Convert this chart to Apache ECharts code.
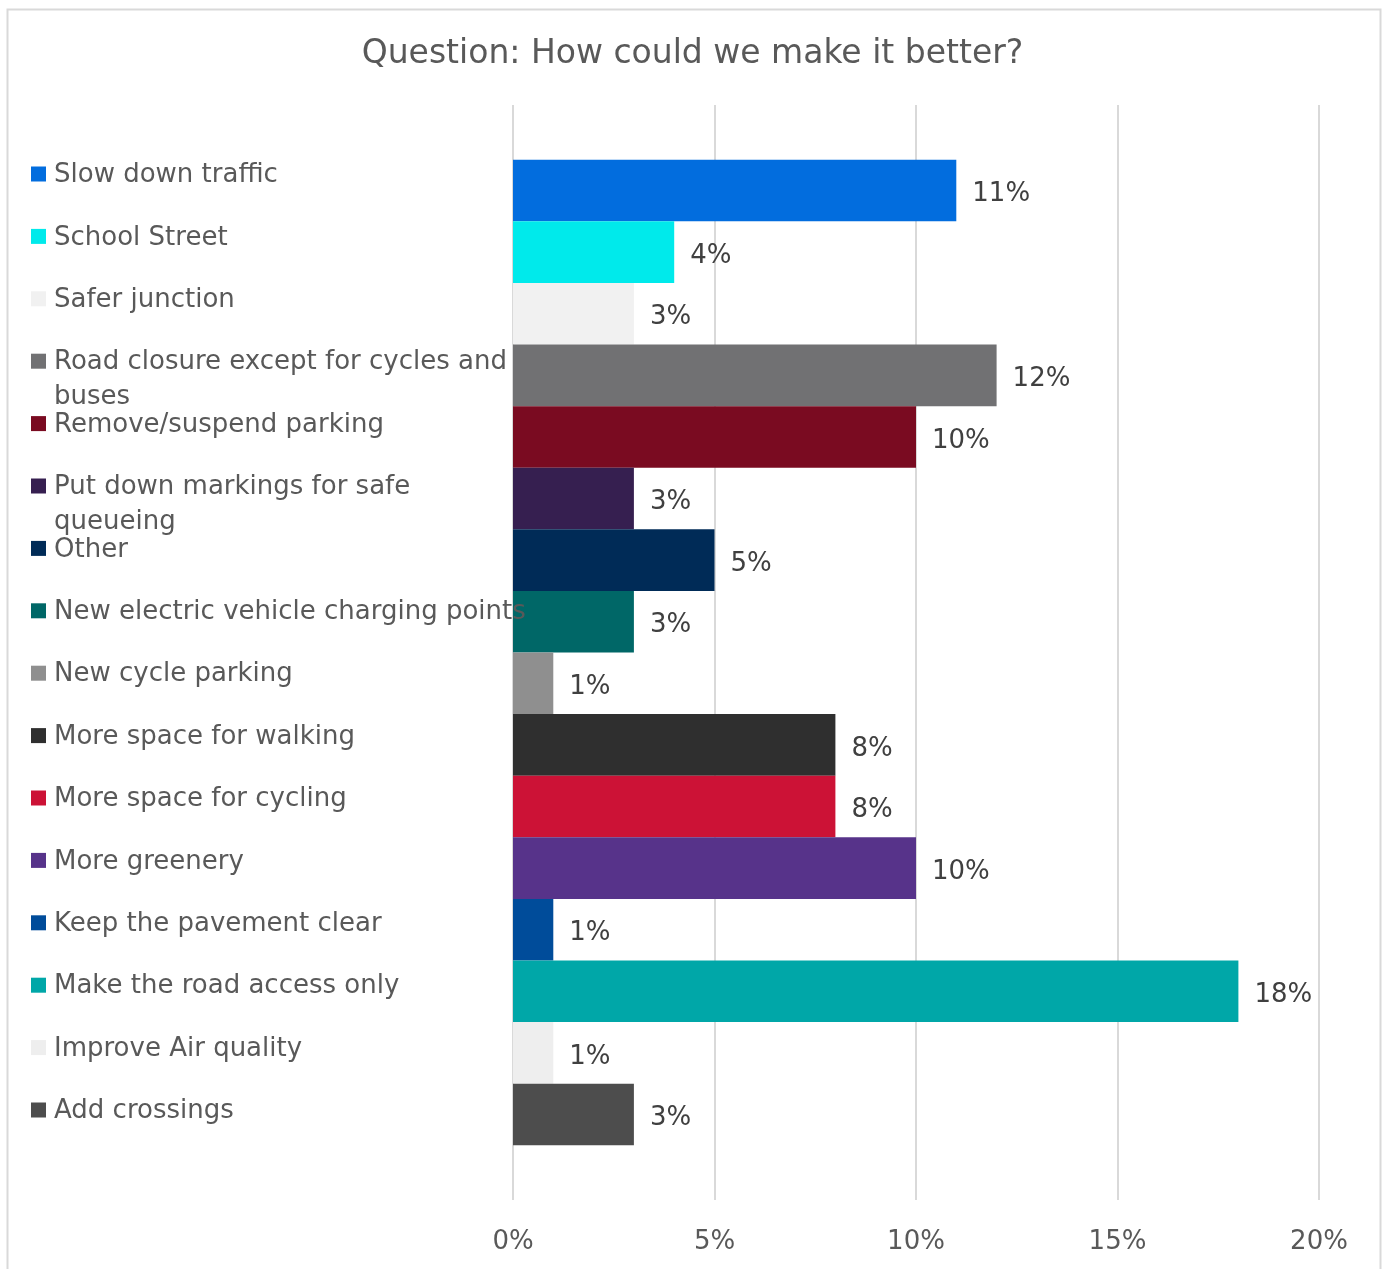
<!DOCTYPE html>
<html>
<head>
<meta charset="utf-8">
<script src="https://cdn.jsdelivr.net/npm/echarts@6/dist/echarts.min.js"></script>
<style>
html,body{margin:0;padding:0;background:#fff;}
#chart{width:1385px;height:1269px;}
</style>
</head>
<body>
<div id="chart"></div>
<script>
const categories = [
  'Slow down traffic',
  'School Street',
  'Safer junction',
  'Road closure except for cycles and\nbuses',
  'Remove/suspend parking',
  'Put down markings for safe\nqueueing',
  'Other',
  'New electric vehicle charging points',
  'New cycle parking',
  'More space for walking',
  'More space for cycling',
  'More greenery',
  'Keep the pavement clear',
  'Make the road access only',
  'Improve Air quality',
  'Add crossings'
];
const values = [11, 4, 3, 12, 10, 3, 5, 3, 1, 8, 8, 10, 1, 18, 1, 3];
const colors = [
  '#026DDE', '#00EAEB', '#F1F1F1', '#717173', '#7A0B21', '#361F50',
  '#002B57', '#006767', '#8F8F8F', '#2F2F2F', '#CC1236', '#57338A',
  '#004C9A', '#00A7A8', '#EEEEEE', '#4D4D4D'
];
const xTicks = [0, 5, 10, 15, 20];

const FONT = '"DejaVu Sans", Verdana, sans-serif';
const chart = echarts.init(document.getElementById('chart'), null, {renderer: 'canvas'});

const series = categories.map((name, i) => ({
  name: name,
  type: 'bar',
  data: [values[i]],
  barGap: '0%',
  barCategoryGap: '10%',
  itemStyle: {color: colors[i]},
  label: {
    show: true,
    position: 'right',
    distance: 16,
    offset: [0, 4],
    formatter: '{c}%',
    color: '#404040',
    fontFamily: FONT,
    fontSize: 26
  }
}));

// legend as graphic text (first line aligned to the square marker)
const legendStartY = 174, legendStep = 62.4;
const legendGraphics = [];
categories.forEach((name, i) => {
  const cy = legendStartY + i * legendStep;
  legendGraphics.push({
    type: 'rect', left: 31, top: cy - 7.5, z: 100,
    shape: {width: 15, height: 15},
    style: {fill: colors[i]}, silent: true
  });
  legendGraphics.push({
    type: 'text', x: 54, y: cy - 16, z: 100,
    style: {
      text: name, fill: '#595959', font: '26px ' + FONT,
      lineHeight: 35, textVerticalAlign: 'top', textAlign: 'left'
    },
    silent: true
  });
});

chart.setOption({
  animation: false,
  backgroundColor: '#ffffff',
  title: {
    text: 'Question: How could we make it better?',
    left: 'center',
    top: 33,
    textStyle: {color: '#595959', fontFamily: FONT, fontSize: 33, fontWeight: 'normal'}
  },
  grid: {left: 513, right: 66, top: 105, bottom: 69, containLabel: false},
  xAxis: {
    type: 'value',
    min: xTicks[0],
    max: xTicks[xTicks.length - 1],
    interval: xTicks[1] - xTicks[0],
    axisLine: {show: false},
    axisTick: {show: false},
    splitLine: {show: true, lineStyle: {color: '#D9D9D9', width: 2}},
    axisLabel: {formatter: '{value}%', color: '#595959', fontFamily: FONT, fontSize: 26, margin: 29}
  },
  yAxis: {
    type: 'category',
    data: [''],
    inverse: true,
    axisLine: {show: false},
    axisTick: {show: false},
    axisLabel: {show: false}
  },
  series: series,
  graphic: [
    {type: 'rect', left: 5, top: 7, shape: {width: 1373, height: 1300},
     style: {fill: null, stroke: '#D9D9D9', lineWidth: 2}, silent: true, z: -1}
  ].concat(legendGraphics)
});
</script>
</body>
</html>
